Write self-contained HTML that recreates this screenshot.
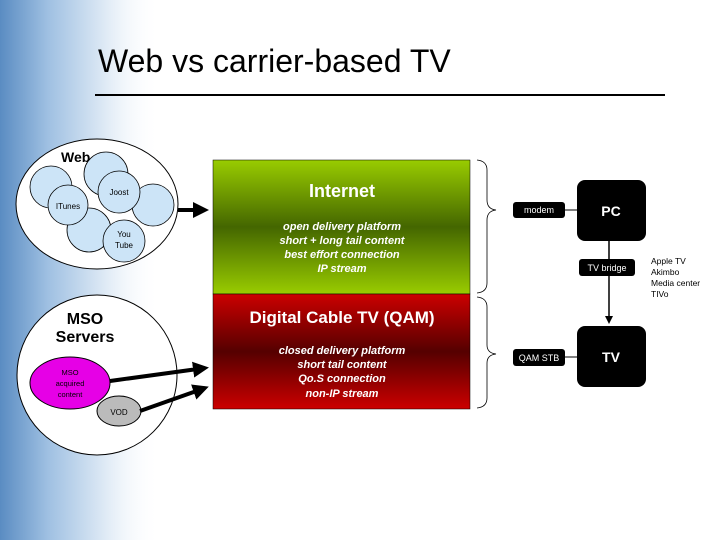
<!DOCTYPE html>
<html><head><style>
body{margin:0;width:720px;height:540px;overflow:hidden;background:#fff;font-family:"Liberation Sans",sans-serif}
</style></head><body>
<svg width="720" height="540" xmlns="http://www.w3.org/2000/svg" font-family="Liberation Sans, sans-serif">
<defs>
<linearGradient id="bg" x1="0" x2="1" y1="0" y2="0">
<stop offset="0" stop-color="#5a8cc2"/><stop offset="0.3" stop-color="#9fc0e2"/><stop offset="0.65" stop-color="#dde9f5"/><stop offset="1" stop-color="#fff" stop-opacity="0"/></linearGradient>
<linearGradient id="gr" x1="0" x2="0" y1="0" y2="1">
<stop offset="0" stop-color="#99cc00"/><stop offset="0.5" stop-color="#446600"/><stop offset="1" stop-color="#99cc00"/></linearGradient>
<linearGradient id="rd" x1="0" x2="0" y1="0" y2="1">
<stop offset="0" stop-color="#cc0000"/><stop offset="0.5" stop-color="#550000"/><stop offset="1" stop-color="#cc0000"/></linearGradient>
<marker id="ah" markerWidth="4" markerHeight="4" refX="3" refY="2" orient="auto"><path d="M0,0L4,2L0,4z" fill="#000"/></marker>
<marker id="ah2" markerWidth="8" markerHeight="8" refX="6" refY="4" orient="auto" markerUnits="userSpaceOnUse"><path d="M0,0L8,4L0,8z" fill="#000"/></marker>
</defs>
<rect x="0" y="0" width="160" height="540" fill="url(#bg)"/>
<text x="98" y="72" font-size="32" fill="#000">Web vs carrier-based TV</text>
<line x1="95" y1="95" x2="665" y2="95" stroke="#000" stroke-width="2"/>
<ellipse cx="97" cy="204" rx="81" ry="65" fill="#fff" stroke="#000"/>
<text x="61" y="162" font-size="14" font-weight="bold">Web</text>
<g fill="#cce4f7" stroke="#000" stroke-width="0.8">
<circle cx="51" cy="187" r="21"/><circle cx="106" cy="174" r="22"/><circle cx="153" cy="205" r="21"/>
<circle cx="89" cy="230" r="22"/><circle cx="68" cy="205" r="20"/><circle cx="119" cy="192" r="21"/><circle cx="124" cy="241" r="21"/>
</g>
<text x="68" y="209" font-size="8" text-anchor="middle">ITunes</text>
<text x="119" y="195" font-size="8" text-anchor="middle">Joost</text>
<text x="124" y="237" font-size="8" text-anchor="middle">You</text>
<text x="124" y="248" font-size="8" text-anchor="middle">Tube</text>
<line x1="178" y1="210" x2="205" y2="210" stroke="#000" stroke-width="4" marker-end="url(#ah)"/>
<ellipse cx="97" cy="375" rx="80" ry="80" fill="#fff" stroke="#000"/>
<text x="85" y="324" font-size="16" font-weight="bold" text-anchor="middle">MSO</text>
<text x="85" y="342" font-size="16" font-weight="bold" text-anchor="middle">Servers</text>
<ellipse cx="70" cy="383" rx="40" ry="26" fill="#e600e6" stroke="#000"/>
<text x="70" y="375" font-size="7.5" text-anchor="middle">MSO</text>
<text x="70" y="386" font-size="7.5" text-anchor="middle">acquired</text>
<text x="70" y="397" font-size="7.5" text-anchor="middle">content</text>
<ellipse cx="119" cy="411" rx="22" ry="15" fill="#bbb" stroke="#000"/>
<text x="119" y="415" font-size="8" text-anchor="middle">VOD</text>
<line x1="110" y1="381" x2="205" y2="368" stroke="#000" stroke-width="4" marker-end="url(#ah)"/>
<line x1="140" y1="411" x2="205" y2="388" stroke="#000" stroke-width="4" marker-end="url(#ah)"/>
<rect x="213" y="160" width="257" height="134" fill="url(#gr)" stroke="#000" stroke-width="0.5"/>
<rect x="213" y="294" width="257" height="115" fill="url(#rd)" stroke="#000" stroke-width="0.5"/>
<g fill="#fff" font-weight="bold" text-anchor="middle">
<text x="342" y="197" font-size="18">Internet</text>
<g font-size="11" font-style="italic"><text x="342" y="230">open delivery platform</text><text x="342" y="244">short + long tail content</text><text x="342" y="258">best effort connection</text><text x="342" y="272">IP stream</text></g>
<text x="342" y="323" font-size="17">Digital Cable TV (QAM)</text>
<g font-size="11" font-style="italic"><text x="342" y="354">closed delivery platform</text><text x="342" y="368">short tail content</text><text x="342" y="382">Qo.S connection</text><text x="342" y="397">non-IP stream</text></g>
</g>
<g fill="none" stroke="#000" stroke-width="0.8">
<path d="M477,160 Q487,161 487,170 L487,200 Q487,209 496,210 Q487,211 487,220 L487,283 Q487,292 477,293"/>
<path d="M477,297 Q487,298 487,307 L487,345 Q487,353 496,354 Q487,355 487,363 L487,398 Q487,407 477,408"/>
</g>
<line x1="565" y1="210" x2="577" y2="210" stroke="#000"/>
<line x1="565" y1="357" x2="577" y2="357" stroke="#000"/>
<line x1="609" y1="240" x2="609" y2="322" stroke="#000" stroke-width="1.5" marker-end="url(#ah2)"/>
<rect x="577" y="180" width="69" height="61" rx="8" fill="#000"/>
<rect x="577" y="326" width="69" height="61" rx="8" fill="#000"/>
<rect x="513" y="202" width="52" height="16" rx="3" fill="#000"/>
<rect x="579" y="259" width="56" height="17" rx="3" fill="#000"/>
<rect x="513" y="349" width="52" height="17" rx="3" fill="#000"/>
<g fill="#fff" text-anchor="middle">
<text x="611" y="216" font-size="14" font-weight="bold">PC</text>
<text x="611" y="362" font-size="14" font-weight="bold">TV</text>
<text x="539" y="213" font-size="9">modem</text>
<text x="607" y="271" font-size="9">TV bridge</text>
<text x="539" y="361" font-size="9">QAM STB</text>
</g>
<g font-size="8.5"><text x="651" y="264">Apple TV</text><text x="651" y="275">Akimbo</text><text x="651" y="286">Media center</text><text x="651" y="297">TIVo</text></g>
</svg>
</body></html>
